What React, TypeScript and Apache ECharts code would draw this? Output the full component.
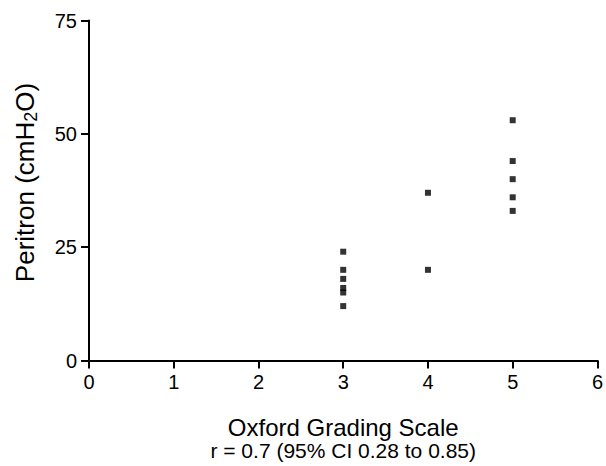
import React, { useEffect, useRef } from "react";
import * as echarts from "echarts";

const xTicks = [0, 1, 2, 3, 4, 5, 6];
const yTicks = [0, 25, 50, 75];
const grade3 = [24, 20, 18, 16, 15, 12];
const grade4 = [37, 20];
const grade5 = [53, 44, 40, 36, 33];
const groups: [number, number[]][] = [
  [3, grade3],
  [4, grade4],
  [5, grade5],
];
const xTitle = "Oxford Grading Scale";
const xSubTitle = "r = 0.7 (95% CI 0.28 to 0.85)";

const FONT = "'Liberation Sans', Arial, Helvetica, sans-serif";

export default function App() {
  const ref = useRef<HTMLDivElement>(null);
  useEffect(() => {
    if (!ref.current) return;
    const chart = echarts.init(ref.current, undefined, { renderer: "svg" });
    const points: number[][] = [];
    groups.forEach(([x, ys]) => ys.forEach((y) => points.push([x, y])));
    const axisCommon = {
      axisLine: { show: true, onZero: false, lineStyle: { color: "#000", width: 2 } },
      axisTick: { show: true, inside: false, length: 8, lineStyle: { color: "#000", width: 2 } },
      splitLine: { show: false },
    };
    chart.setOption({
      animation: false,
      backgroundColor: "#fff",
      grid: { left: 89, right: 7, top: 20.5, bottom: 103.5, containLabel: false },
      xAxis: {
        type: "value",
        min: xTicks[0],
        max: xTicks[xTicks.length - 1],
        interval: 1,
        ...axisCommon,
        axisLabel: { color: "#000", fontSize: 20, fontFamily: FONT, margin: 11 },
        name: `{a|${xTitle}}\n{b|${xSubTitle}}`,
        nameLocation: "middle",
        nameGap: 54.5,
        nameTextStyle: {
          color: "#000",
          fontFamily: FONT,
          rich: {
            a: { fontSize: 24, lineHeight: 25, color: "#000", fontFamily: FONT },
            b: { fontSize: 21, lineHeight: 21, color: "#000", fontFamily: FONT },
          },
        },
      },
      yAxis: {
        type: "value",
        min: yTicks[0],
        max: yTicks[yTicks.length - 1],
        interval: 25,
        ...axisCommon,
        axisLabel: { color: "#000", fontSize: 20, fontFamily: FONT, margin: 12 },
      },
      graphic: [
        {
          type: "text",
          x: 25,
          y: 182.5,
          rotation: Math.PI / 2,
          style: {
            text: "{a|Peritron (cmH}{s|2}{a|O)}",
            align: "center",
            verticalAlign: "middle",
            fill: "#000",
            rich: {
              a: { fontSize: 26, lineHeight: 30, fontFamily: FONT, fill: "#000", verticalAlign: "middle" },
              s: { fontSize: 18, lineHeight: 18, fontFamily: FONT, fill: "#000", verticalAlign: "bottom" },
            },
          },
        },
      ],
      series: [
        {
          type: "scatter",
          data: points,
          symbol: "rect",
          symbolSize: 6,
          itemStyle: { color: "#000" },
        },
      ],
    });
    return () => chart.dispose();
  }, []);
  return (
    <div
      ref={ref}
      style={{ position: "fixed", left: 0, top: 0, width: 606, height: 466, background: "#fff" }}
    />
  );
}
